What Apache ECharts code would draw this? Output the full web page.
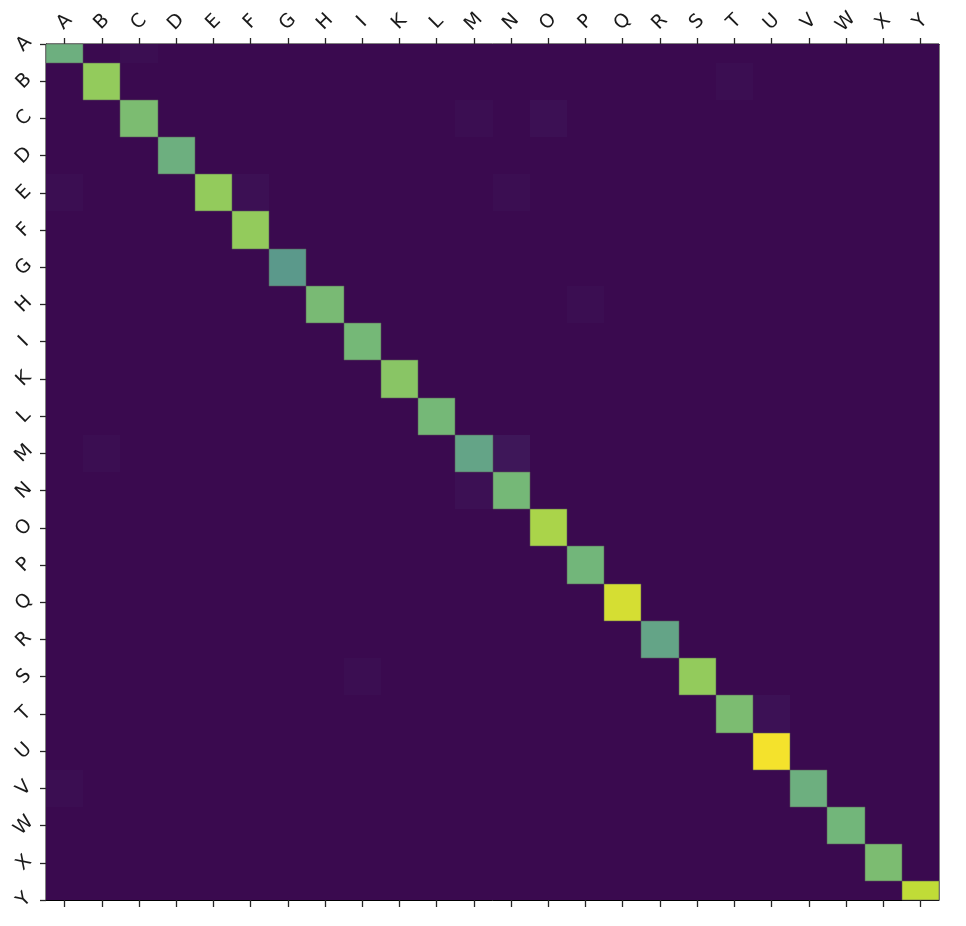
<!DOCTYPE html>
<html>
<head>
<meta charset="utf-8">
<script src="https://cdn.jsdelivr.net/npm/echarts@6/dist/echarts.min.js"></script>
<style>
html,body{margin:0;padding:0;background:#fff;}
#chart{width:966px;height:926px;}
</style>
</head>
<body>
<div id="chart"></div>
<script>
// Class labels (row = true, column = predicted)
const letters = ['A','B','C','D','E','F','G','H','I','K','L','M','N','O','P','Q','R','S','T','U','V','W','X','Y'];
// Diagonal values (normalised)
const diagonal = [0.67,0.80,0.73,0.67,0.80,0.80,0.57,0.72,0.71,0.77,0.71,0.62,0.71,0.85,0.70,0.94,0.62,0.80,0.73,1.00,0.67,0.70,0.73,0.90];
// Off-diagonal confusions
const offRows   = ['A','B','C','C','E','E','E','H','M','M','N','S','T','V'];
const offCols   = ['C','T','M','O','A','F','N','P','B','N','M','I','U','A'];
const offValues = [0.015,0.015,0.015,0.02,0.015,0.02,0.015,0.015,0.015,0.045,0.02,0.015,0.025,0.015];
// Colour ramp (viridis as it appears in the reference)
const ramp = ['#3a0a4f','#432766','#42447a','#426083','#437687','#4e8b8c','#609f8a','#72b67a','#93cb5c','#c0dc37','#f4e22c'];

const n = letters.length;
const matrix = [];
for (let r = 0; r < n; r++) { matrix.push(new Array(n).fill(0)); matrix[r][r] = diagonal[r]; }
offRows.forEach((r, i) => { matrix[letters.indexOf(r)][letters.indexOf(offCols[i])] = offValues[i]; });
const data = [];
for (let r = 0; r < n; r++) for (let c = 0; c < n; c++) data.push([c, r, matrix[r][c]]);

const labelStyle = {fontFamily:'DejaVu Sans', fontSize:19, color:'#1a1a1a'};
const chart = echarts.init(document.getElementById('chart'), null, {renderer:'canvas'});
chart.setOption({
  backgroundColor:'#ffffff',
  animation:false,
  grid:{left:46, right:27, top:44, bottom:26, show:true, borderColor:'#000', borderWidth:1, backgroundColor:ramp[0]},
  visualMap:{show:false, type:'continuous', min:0, max:1, dimension:2, inRange:{color:ramp}},
  xAxis:[
    {type:'category', data:letters, position:'top', boundaryGap:true,
     axisLine:{show:true, lineStyle:{color:'#000', width:1}},
     axisTick:{show:true, alignWithLabel:true, length:6, lineStyle:{color:'#262626', width:1.3}},
     axisLabel:Object.assign({rotate:45, align:'center', verticalAlign:'middle', margin:22, interval:0}, labelStyle),
     splitLine:{show:false}},
    {type:'category', data:letters, position:'bottom', boundaryGap:true,
     axisLine:{show:true, lineStyle:{color:'#000', width:1}},
     axisTick:{show:true, alignWithLabel:true, length:7, lineStyle:{color:'#262626', width:1.3}},
     axisLabel:{show:false}, splitLine:{show:false}}
  ],
  yAxis:{type:'value', min:0, max:n-1, interval:1, inverse:true,
     axisLine:{show:true, lineStyle:{color:'#000', width:1}},
     axisTick:{show:true, length:6, lineStyle:{color:'#262626', width:1.3}},
     axisLabel:Object.assign({rotate:45, align:'center', verticalAlign:'middle', margin:22,
       showMinLabel:true, showMaxLabel:true, formatter:v => letters[v] || ''}, labelStyle),
     splitLine:{show:false}},
  series:[{
    type:'custom', xAxisIndex:0, yAxisIndex:0,
    encode:{x:0, y:1},
    data:data,
    renderItem:function(params, api){
      const x = api.value(0), y = api.value(1), v = api.value(2);
      const p0 = api.coord([x, y - 0.5]);
      const p1 = api.coord([x, y + 0.5]);
      const w = api.size([1, 0])[0];
      const cs = params.coordSys;
      const x0 = Math.round(p0[0] - w/2), x1 = Math.round(p0[0] + w/2);
      const y0 = Math.round(Math.min(p0[1], p1[1])), y1 = Math.round(Math.max(p0[1], p1[1]));
      const shape = echarts.graphic.clipRectByRect(
        {x:x0, y:y0, width:x1 - x0, height:y1 - y0},
        {x:cs.x, y:cs.y, width:cs.width, height:cs.height});
      if (!shape) return null;
      const style = {fill:api.visual('color')};
      if (v > 0.3) { style.stroke = 'rgba(90,90,90,0.55)'; style.lineWidth = 1; }
      return {type:'rect', shape:shape, style:style, z2: v > 0.3 ? 2 : 1};
    }
  }]
});
</script>
</body>
</html>
